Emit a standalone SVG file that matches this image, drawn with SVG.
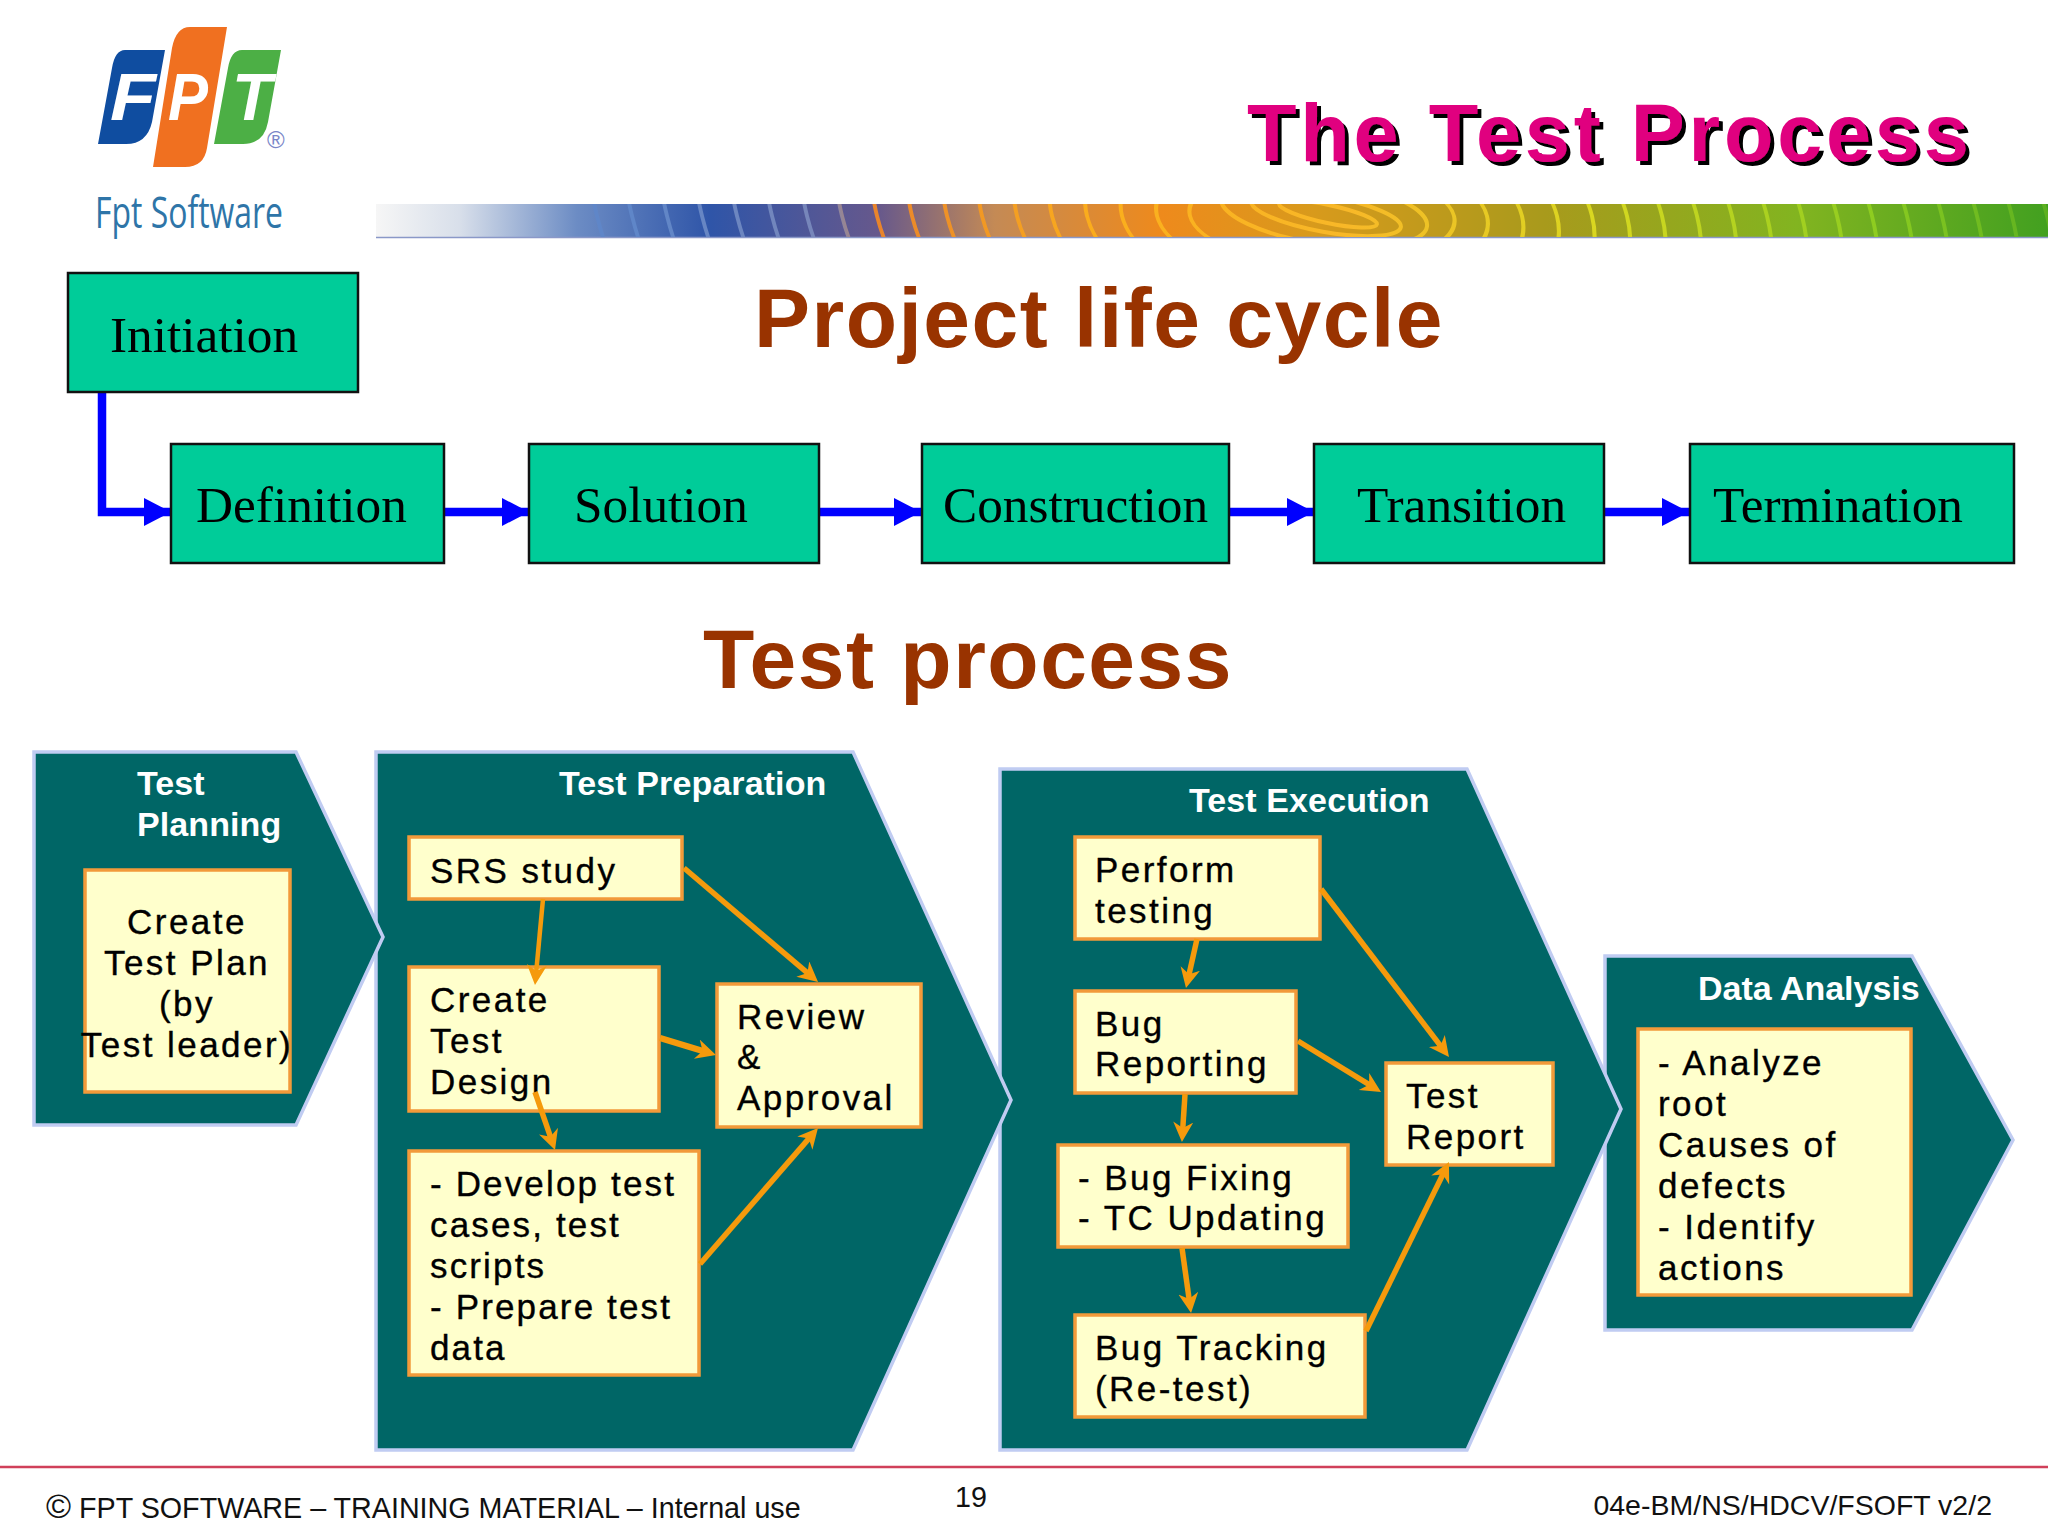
<svg xmlns="http://www.w3.org/2000/svg" width="2048" height="1536" viewBox="0 0 2048 1536">
<style>
text{font-family:"Liberation Sans",Arial,sans-serif}
.g{fill:#00cc99;stroke:#111;stroke-width:2.5}
.gt{font-family:"Liberation Serif","Times New Roman",serif;font-size:51.300px;fill:#000}
.h{font-weight:700;font-size:84px;fill:#993300;letter-spacing:1.5px}
.p{fill:#006666;stroke:#c0ccf2;stroke-width:3.500}
.w{font-weight:700;font-size:34px;fill:#fff;letter-spacing:.1px}
.y{fill:#ffffcc;stroke:#f29a3a;stroke-width:3.500}
.t{font-size:35px;fill:#000;letter-spacing:2.450px;stroke:#000;stroke-width:.35}
.b{stroke:#0000ff;stroke-width:8.500;fill:none}
.o{stroke:#f59a0c;stroke-width:5.500;fill:none;marker-end:url(#oa)}
.r{fill:none;stroke:url(#ring);stroke-width:4}
.f{font-size:28.700px;fill:#111}
</style>
<defs>
<marker id="oa" markerUnits="userSpaceOnUse" markerWidth="24" markerHeight="24" refX="8" refY="10" orient="auto"><path d="M0 0L20 10L0 20L6 10Z" fill="#f59a0c"/></marker>
<marker id="ba" markerUnits="userSpaceOnUse" markerWidth="30" markerHeight="30" refX="27" refY="14" orient="auto"><path d="M0 0L27 14L0 28Z" fill="#0000ff"/></marker>
<linearGradient id="bar" gradientUnits="userSpaceOnUse" x1="376" y1="0" x2="2048" y2="0">
<stop offset="0" stop-color="#f6f6f6"/><stop offset=".05" stop-color="#d8dfea"/><stop offset=".12" stop-color="#6c8cc4"/><stop offset=".2" stop-color="#2f55a8"/><stop offset=".3" stop-color="#66588c"/><stop offset=".37" stop-color="#c48a55"/><stop offset=".47" stop-color="#ee8a1c"/><stop offset=".56" stop-color="#d89a1c"/><stop offset=".7" stop-color="#a89a1c"/><stop offset=".85" stop-color="#82b420"/><stop offset="1" stop-color="#42a020"/>
</linearGradient>
<linearGradient id="ring" gradientUnits="userSpaceOnUse" x1="650" y1="0" x2="2048" y2="0">
<stop offset="0" stop-color="#5f86c8"/><stop offset=".13" stop-color="#7a86b8"/><stop offset=".16" stop-color="#e8842c"/><stop offset=".32" stop-color="#fbae1c"/><stop offset=".5" stop-color="#f8b828"/><stop offset=".68" stop-color="#d8d820"/><stop offset=".88" stop-color="#8ccc20"/><stop offset="1" stop-color="#5cb020"/>
</linearGradient>
<clipPath id="bc"><rect x="376" y="204" width="1672" height="33"/></clipPath>
<filter id="sh" x="-5%" y="-20%" width="110%" height="140%"><feDropShadow dx="4" dy="4" stdDeviation="0.4" flood-color="#000"/></filter>
</defs>

<g id="logo">
<path d="M125 50H165L152 122Q147 144 126 144H98L112 68Q115 50 125 50Z" fill="#0f4da0"/>
<path d="M190 27H227L207 148Q204 167 185 167H153L172 48Q176 27 190 27Z" fill="#f07020"/>
<path d="M242 50H281L268 122Q264 144 243 144H214L228 68Q231 50 242 50Z" fill="#4caf45"/>
<text x="110" y="120" font-size="66" font-weight="700" font-style="italic" fill="#fff" textLength="46" lengthAdjust="spacingAndGlyphs">F</text>
<text x="168" y="120" font-size="66" font-weight="700" font-style="italic" fill="#fff" textLength="40" lengthAdjust="spacingAndGlyphs">P</text>
<text x="232" y="120" font-size="66" font-weight="700" font-style="italic" fill="#fff" textLength="40" lengthAdjust="spacingAndGlyphs">T</text>
<text x="267" y="148" font-size="24" fill="#7a86c8">®</text>
<text x="95" y="228" style="font-family:'Open Sans',sans-serif" font-size="44" fill="#2e75a8" textLength="188" lengthAdjust="spacingAndGlyphs">Fpt Software</text>
</g>

<g id="banner">
<rect x="376" y="204" width="1672" height="33" fill="url(#bar)"/>
<line x1="376" y1="237.500" x2="2048" y2="237.500" stroke="#8a98c8" stroke-width="1.500"/>
<g clip-path="url(#bc)">
<ellipse class="r" cx="1328" cy="214" rx="50" ry="9" transform="rotate(12 1328 214)"/>
<ellipse class="r" cx="1326" cy="214" rx="76" ry="18" transform="rotate(10 1326 214)"/>
<ellipse class="r" cx="1324" cy="212" rx="104" ry="32" transform="rotate(8 1324 212)"/>
<g transform="translate(1322 216) skewX(14) translate(-1322 -216)">
<ellipse class="r" cx="1322" cy="216" rx="132" ry="50"/>
<ellipse class="r" cx="1322" cy="216" rx="165" ry="70"/>
<ellipse class="r" cx="1322" cy="216" rx="200" ry="95"/>
<ellipse class="r" cx="1322" cy="216" rx="235" ry="120"/>
<ellipse class="r" cx="1322" cy="216" rx="270" ry="150"/>
<ellipse class="r" cx="1322" cy="216" rx="305" ry="175"/>
<ellipse class="r" cx="1322" cy="216" rx="340" ry="200"/>
<ellipse class="r" cx="1322" cy="216" rx="375" ry="225"/>
<ellipse class="r" cx="1322" cy="216" rx="410" ry="250"/>
<ellipse class="r" cx="1322" cy="216" rx="445" ry="275"/>
<ellipse class="r" cx="1322" cy="216" rx="480" ry="300"/>
<ellipse class="r" cx="1322" cy="216" rx="515" ry="325"/>
<ellipse class="r" cx="1322" cy="216" rx="550" ry="350"/>
<ellipse class="r" cx="1322" cy="216" rx="585" ry="375"/>
<ellipse class="r" cx="1322" cy="216" rx="620" ry="400"/>
<ellipse class="r" cx="1322" cy="216" rx="655" ry="425"/>
<ellipse class="r" cx="1322" cy="216" rx="690" ry="450"/>
<ellipse class="r" cx="1322" cy="216" rx="725" ry="475"/>
</g>
</g>
</g>
<text id="title" x="1247" y="161" font-size="81" font-weight="700" letter-spacing="3.800" fill="#e0007f" filter="url(#sh)">The Test Process</text>

<text x="754" y="347" class="h">Project life cycle</text>
<text x="703" y="688" class="h">Test process</text>

<g id="connectors-blue">
<path class="b" marker-end="url(#ba)" d="M102 392V512H171"/>
<path class="b" marker-end="url(#ba)" d="M444 512H529"/>
<path class="b" marker-end="url(#ba)" d="M819 512H921"/>
<path class="b" marker-end="url(#ba)" d="M1229 512H1314"/>
<path class="b" marker-end="url(#ba)" d="M1604 512H1689"/>
</g>
<g id="n-initiation"><rect class="g" x="68" y="273" width="290" height="119"/><text class="gt" x="110" y="352">Initiation</text></g>
<g id="n-definition"><rect class="g" x="171" y="444" width="273" height="119"/><text class="gt" x="196" y="522">Definition</text></g>
<g id="n-solution"><rect class="g" x="529" y="444" width="290" height="119"/><text class="gt" x="574" y="522">Solution</text></g>
<g id="n-construction"><rect class="g" x="922" y="444" width="307" height="119"/><text class="gt" x="943" y="522">Construction</text></g>
<g id="n-transition"><rect class="g" x="1314" y="444" width="290" height="119"/><text class="gt" x="1357" y="522">Transition</text></g>
<g id="n-termination"><rect class="g" x="1690" y="444" width="324" height="119"/><text class="gt" x="1713" y="522">Termination</text></g>

<g id="p-analysis"><path class="p" d="M1605 956H1912L2013 1140L1912 1330H1605Z"/><text class="w" x="1698" y="1000" style="letter-spacing:0">Data Analysis</text></g>
<g id="p-execution"><path class="p" d="M1000 769H1467L1621 1109L1467 1450H1000Z"/><text class="w" x="1189" y="812">Test Execution</text></g>
<g id="p-preparation"><path class="p" d="M376 752H853L1011 1100L853 1450H376Z"/><text class="w" x="559" y="795">Test Preparation</text></g>
<g id="p-planning"><path class="p" d="M34 752H296L383 937L296 1125H34Z"/><text class="w" x="137" y="795">Test</text><text class="w" x="137" y="836">Planning</text></g>

<g id="n-plan"><rect class="y" x="85" y="870" width="205" height="222"/>
<text class="t" text-anchor="middle" x="187" y="934">Create</text><text class="t" text-anchor="middle" x="187" y="975">Test Plan</text><text class="t" text-anchor="middle" x="187" y="1016">(by</text><text class="t" text-anchor="middle" x="187" y="1057">Test leader)</text></g>
<g id="n-srs"><rect class="y" x="409" y="837" width="273" height="62"/><text class="t" x="430" y="883">SRS study</text></g>
<g id="n-design"><rect class="y" x="409" y="967" width="250" height="144"/><text class="t" x="430" y="1012">Create</text><text class="t" x="430" y="1053">Test</text><text class="t" x="430" y="1094">Design</text></g>
<g id="n-review"><rect class="y" x="717" y="984" width="204" height="143"/><text class="t" x="737" y="1029">Review</text><text class="t" x="737" y="1069">&amp;</text><text class="t" x="737" y="1110">Approval</text></g>
<g id="n-develop" style="letter-spacing:2.150px"><rect class="y" x="409" y="1151" width="290" height="224"/><text class="t" style="letter-spacing:2.150px" x="430" y="1196">- Develop test</text><text class="t" style="letter-spacing:2.150px" x="430" y="1237">cases, test</text><text class="t" style="letter-spacing:2.150px" x="430" y="1278">scripts</text><text class="t" style="letter-spacing:2.150px" x="430" y="1319">- Prepare test</text><text class="t" style="letter-spacing:2.150px" x="430" y="1360">data</text></g>
<g id="n-perform"><rect class="y" x="1075" y="837" width="245" height="102"/><text class="t" x="1095" y="882">Perform</text><text class="t" x="1095" y="923">testing</text></g>
<g id="n-bugrep"><rect class="y" x="1075" y="991" width="221" height="102"/><text class="t" x="1095" y="1036">Bug</text><text class="t" x="1095" y="1076">Reporting</text></g>
<g id="n-fix"><rect class="y" x="1058" y="1145" width="290" height="102"/><text class="t" x="1078" y="1190">- Bug Fixing</text><text class="t" x="1078" y="1230">- TC Updating</text></g>
<g id="n-track"><rect class="y" x="1075" y="1315" width="290" height="102"/><text class="t" x="1095" y="1360">Bug Tracking</text><text class="t" x="1095" y="1401">(Re-test)</text></g>
<g id="n-report"><rect class="y" x="1386" y="1063" width="167" height="102"/><text class="t" x="1406" y="1108">Test</text><text class="t" x="1406" y="1149">Report</text></g>
<g id="n-actions"><rect class="y" x="1638" y="1029" width="273" height="266"/><text class="t" x="1658" y="1075">- Analyze</text><text class="t" x="1658" y="1116">root</text><text class="t" x="1658" y="1157">Causes of</text><text class="t" x="1658" y="1198">defects</text><text class="t" x="1658" y="1239">- Identify</text><text class="t" x="1658" y="1280">actions</text></g>

<g id="connectors-orange">
<line class="o" style="stroke-width:4.500" x1="543" y1="899" x2="536.100" y2="973"/>
<line class="o" x1="684" y1="868" x2="808.900" y2="974.200"/>
<line class="o" style="stroke-width:6.500" x1="660" y1="1038" x2="704.500" y2="1051.500"/>
<line class="o" x1="535" y1="1092" x2="551.100" y2="1138.700"/>
<line class="o" x1="700" y1="1264" x2="810.100" y2="1137.100"/>
<line class="o" x1="1197" y1="939" x2="1188.600" y2="976.300"/>
<line class="o" x1="1321" y1="889" x2="1441.700" y2="1047.400"/>
<line class="o" x1="1298" y1="1041" x2="1370.800" y2="1085.700"/>
<line class="o" x1="1185" y1="1094" x2="1182.700" y2="1130"/>
<line class="o" x1="1182" y1="1248" x2="1189.400" y2="1301.100"/>
<line class="o" x1="1366" y1="1331" x2="1443.700" y2="1172.800"/>
</g>

<g id="footer">
<line x1="0" y1="1467" x2="2048" y2="1467" stroke="#d0405a" stroke-width="2.500"/>
<text class="f" x="46" y="1518"><tspan font-size="34">©</tspan> FPT SOFTWARE – TRAINING MATERIAL – Internal use</text>
<text class="f" x="955" y="1507">19</text>
<text class="f" x="1992" y="1515" text-anchor="end" style="font-size:28.500px">04e-BM/NS/HDCV/FSOFT v2/2</text>
</g>
</svg>
